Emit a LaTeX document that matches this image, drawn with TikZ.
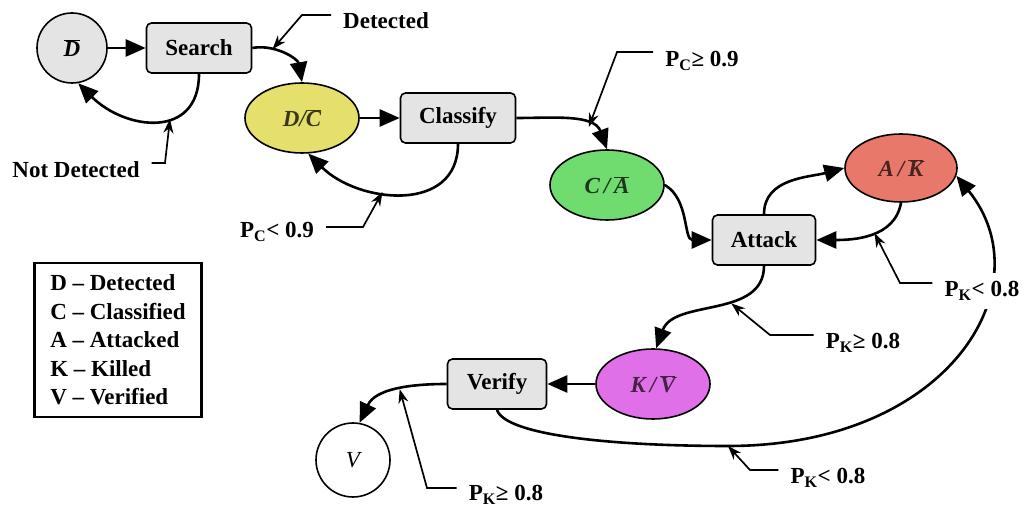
\documentclass[tikz,border=0pt]{standalone}
\usepackage{fontspec}
\setmainfont{Liberation Serif}
\usepackage{tikz}
\usetikzlibrary{shapes.geometric,arrows.meta,calc}
\definecolor{boxgray}{RGB}{228,228,228}
\definecolor{dcyellow}{RGB}{229,224,108}
\definecolor{cagreen}{RGB}{112,220,112}
\definecolor{akred}{RGB}{232,120,106}
\definecolor{kvpink}{RGB}{224,112,232}
\tikzset{
	actbox/.style={draw,line width=1.6pt,rounded corners=5pt,fill=boxgray,minimum height=50pt,inner xsep=0pt},
	stateell/.style={draw,line width=1.6pt,ellipse,minimum width=114pt,minimum height=70pt,inner sep=0pt},
	trans/.style={line width=2.6pt,-{Triangle[length=20pt,width=17pt]}},
	callout/.style={line width=1.7pt,-{Stealth[length=14pt,width=10pt]}},
	lbl/.style={inner xsep=12pt,inner ysep=2pt}
}
\newcommand{\nbar}[1]{$\overline{\mbox{#1}}$}

\begin{document}
\begin{tikzpicture}[x=1pt,y=1pt,font=\fontsize{23}{28.5}\selectfont\bfseries]
	
	\useasboundingbox (0,0) rectangle (1024,510);
	
	%Etats
	\node[draw,circle,line width=1.6pt,fill=boxgray,minimum size=70pt,inner sep=0pt] (Dn) at (72,462) {\itshape\nbar{D}};
	\node[stateell,fill=dcyellow,text=black!75!dcyellow] (DC) at (302,392) {\itshape D/\nbar{C}};
	\node[stateell,fill=cagreen,text=black!75!cagreen] (CA) at (607,325) {\itshape C\,/\,\nbar{A}};
	\node[stateell,fill=akred,text=black!70!akred,minimum width=112pt,minimum height=68pt] (AK) at (901,342) {\itshape A\,/\,\nbar{K}};
	\node[stateell,fill=kvpink,text=black!70!kvpink] (KV) at (653,126) {\itshape K\,/\,\nbar{V}};
	\node[draw,circle,line width=1.6pt,fill=white,minimum size=74pt,inner sep=0pt] (Vf) at (353,50) {\mdseries\itshape V};
	
	%Actions
	\node[actbox,minimum width=105pt] (Srch) at (199,462) {Search};
	\node[actbox,minimum width=115pt] (Clf) at (458,392) {Classify};
	\node[actbox,minimum width=103pt] (Att) at (764,270) {Attack};
	\node[actbox,minimum width=99pt] (Ver) at (497,126) {Verify};
	
	%Transitions
	\draw[trans] (Dn) -- (Srch);
	\draw[trans] (Srch.east) to[out=10,in=100] coordinate[pos=0.3] (tDet) (DC.north);
	\draw[trans] (Srch.south) to[out=-90,in=-45,looseness=1.4] coordinate[pos=0.4] (tND) (Dn.-80);
	\draw[trans] (DC) -- (Clf);
	\draw[trans] (Clf.south) to[out=-90,in=-45,looseness=1.2] coordinate[pos=0.6] (tPC1) (DC.-80);
	\draw[trans] (Clf.east) to[out=0,in=110] coordinate[pos=0.7] (tPC2) (CA.north);
	\draw[trans] (CA.east) to[out=-30,in=180] (Att.west);
	\draw[trans] (Att.north) to[out=90,in=195] (AK.west);
	\draw[trans] (AK.south) to[out=-100,in=0] coordinate[pos=0.45] (tPK1) (Att.east);
	\draw[trans] (Att.south) to[out=-90,in=70] coordinate[pos=0.4] (tPK2) (KV.85);
	\draw[trans] (KV) -- (Ver);
	\draw[trans] (Ver.west) to[out=180,in=65] coordinate[pos=0.45] (tPK4) (Vf.80);
	\coordinate (tPK3) at (728,64);
	\draw[trans] (Ver.south) .. controls (505,75) and (610,64) .. (tPK3) .. controls (950,64) and (1045,225) .. (AK.-8);
	
	%Conditions
	\node[lbl] (lDet) at (386,489) {Detected};
	\node[lbl] (lND) at (76,340) {Not Detected};
	\node[lbl] (lPC1) at (277,278) {P\textsubscript{C}< 0.9};
	\node[lbl] (lPC2) at (702,449) {P\textsubscript{C}≥ 0.9};
	\node[lbl,fill=white,inner ysep=8pt] (lPK1) at (982,219) {P\textsubscript{K}< 0.8};
	\node[lbl] (lPK2) at (863,167) {P\textsubscript{K}≥ 0.8};
	\node[lbl] (lPK3) at (828,32) {P\textsubscript{K}< 0.8};
	\node[lbl] (lPK4) at (506,15) {P\textsubscript{K}≥ 0.8};
	
	\coordinate (kDet) at (302,495);
	\coordinate (kND) at (165,347);
	\coordinate (kPC1) at (363,283);
	\coordinate (kPC2) at (617,458);
	\coordinate (kPK1) at (900,227);
	\coordinate (kPK2) at (770,175);
	\coordinate (kPK3) at (750,40);
	\coordinate (kPK4) at (427,22);
	
	\draw[callout] (lDet.west |- kDet) -- (kDet) -- (tDet);
	\draw[callout] (lND.east |- kND) -- (kND) -- (tND);
	\draw[callout] (lPC1.east |- kPC1) -- (kPC1) -- (tPC1);
	\draw[callout] (lPC2.west |- kPC2) -- (kPC2) -- (tPC2);
	\draw[callout] (lPK1.west |- kPK1) -- (kPK1) -- (tPK1);
	\draw[callout] (lPK2.west |- kPK2) -- (kPK2) -- (tPK2);
	\draw[callout] (lPK3.west |- kPK3) -- (kPK3) -- (tPK3);
	\draw[callout] (lPK4.west |- kPK4) -- (kPK4) -- (tPK4);
	
	%Legende
	\node[draw,line width=2.6pt,align=left,inner xsep=16pt,inner ysep=12pt] (Leg) at (118,170) {D -- Detected\\C -- Classified\\A -- Attacked\\K -- Killed\\V -- Verified};
	
\end{tikzpicture}
\end{document}
